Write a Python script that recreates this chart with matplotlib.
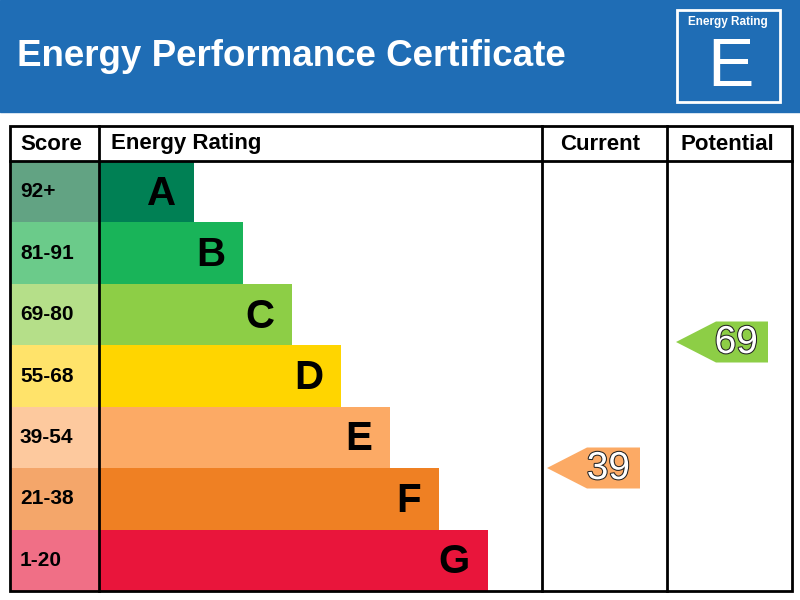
import matplotlib
matplotlib.use('Agg')
import matplotlib.pyplot as plt
from matplotlib.patches import Rectangle, Polygon
import matplotlib.patheffects as pe

bands = ['A', 'B', 'C', 'D', 'E', 'F', 'G']
ranges = ['92+', '81-91', '69-80', '55-68', '39-54', '21-38', '1-20']
lower = [92, 81, 69, 55, 39, 21, 1]
colors = ['#008054', '#19b459', '#8dce46', '#ffd500', '#fcaa65', '#ef8023', '#e9153b']
light = ['#62a383', '#6bcb8a', '#b5df89', '#ffe36a', '#fdc99e', '#f4a66a', '#f06f86']
current = 39
potential = 69

FONT = 'Liberation Sans'
fig = plt.figure(figsize=(8, 6), dpi=100)
ax = fig.add_axes([0, 0, 1, 1])
ax.set_xlim(0, 800)
ax.set_ylim(600, 0)
ax.axis('off')

# header
ax.add_patch(Rectangle((0, 0), 800, 112, color='#1f6db5'))
ax.text(17, 56, 'Energy Performance Certificate', color='white', fontsize=26.5,
        fontweight='bold', family=FONT, va='center')


def band_of(score):
    for i, lo in enumerate(lower):
        if score >= lo:
            return i
    return len(lower) - 1


ax.add_patch(Rectangle((677, 10), 103, 92, fill=False, ec='white', lw=2))
ax.text(728, 22, 'Energy Rating', color='white', fontsize=8.5, fontweight='bold',
        family=FONT, ha='center', va='center')
ax.text(730, 68, bands[band_of(current)], color='white', fontsize=50,
        family=FONT, ha='center', va='center')

# table
top, head, bot = 126, 161, 591
rh = (bot - head) / len(bands)
for i, (b, r) in enumerate(zip(bands, ranges)):
    y0 = head + i * rh
    ax.add_patch(Rectangle((10, y0), 89, rh, color=light[i], lw=0))
    ax.add_patch(Rectangle((99, y0), 95 + 49 * i, rh, color=colors[i], lw=0))
    ax.text(20, y0 + rh / 2, r, fontsize=15, fontweight='bold', family=FONT, va='center')
    ax.text(99 + 95 + 49 * i - 18, y0 + rh / 2 + 2, b, fontsize=29, fontweight='bold',
            family=FONT, va='center', ha='right')

ax.add_patch(Rectangle((10, top), 782, bot - top, fill=False, ec='black', lw=2))
ax.plot([10, 792], [head, head], color='black', lw=2)
for x in (99, 542, 667):
    ax.plot([x, x], [top, bot], color='black', lw=2)
for x, t in [(20, 'Score'), (111, 'Energy Rating'), (560, 'Current'), (680, 'Potential')]:
    ax.text(x, 144, t, fontsize=16, fontweight='bold', family=FONT, va='center')


def arrow(score, x0, x1):
    i = band_of(score)
    ym = 342 + (69 - score) * 4.2
    y0, y1 = ym - 20.5, ym + 20.5
    ax.add_patch(Polygon([(x0, ym), (x0 + 40, y0), (x1, y0), (x1, y1), (x0 + 40, y1)],
                         color=colors[i], lw=0))
    ax.text(x1 - 10, ym + 1, str(score), fontsize=28, color='white', family=FONT,
            ha='right', va='center',
            path_effects=[pe.withStroke(linewidth=1.5, foreground='#222222')])


arrow(current, 547, 640)
arrow(potential, 676, 768)

fig.savefig('out.png', dpi=100)
